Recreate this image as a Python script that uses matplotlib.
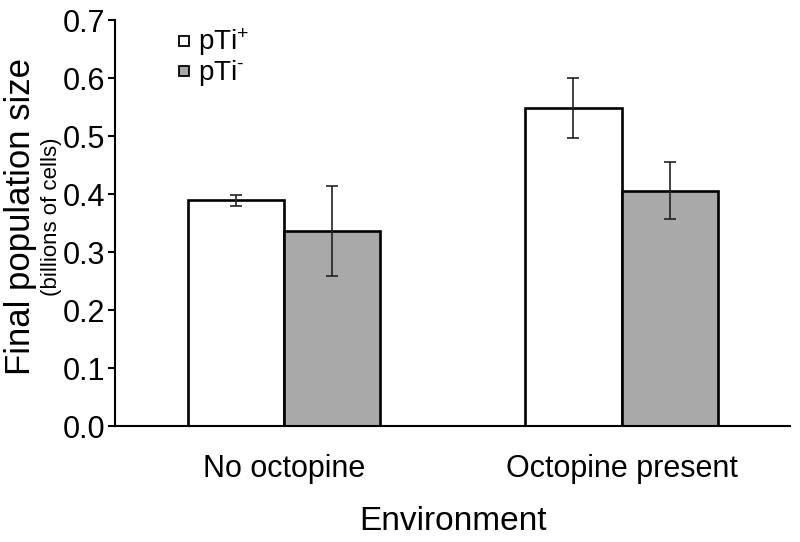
import numpy as np
import matplotlib
matplotlib.use("Agg")
import matplotlib.pyplot as plt
from matplotlib.lines import Line2D

plt.rcParams["font.family"] = ["Liberation Sans", "DejaVu Sans"]
plt.rcParams["mathtext.fontset"] = "custom"
plt.rcParams["mathtext.rm"] = "Liberation Sans"

# data
environments = ["No octopine", "Octopine present"]
pti_plus = [0.389, 0.548]
pti_plus_err = [0.010, 0.052]
pti_minus = [0.336, 0.406]
pti_minus_err = [0.078, 0.049]

fig = plt.figure(figsize=(8, 5.42), dpi=100)
ax = fig.add_axes([0.144, 0.214, 0.844, 0.749])

x = np.arange(len(environments))
w = 0.285

ax.bar(x - w / 2, pti_plus, w, color="white", edgecolor="black", linewidth=1.9, zorder=2)
ax.bar(x + w / 2, pti_minus, w, color="#a9a9a9", edgecolor="black", linewidth=1.9, zorder=2)
ax.errorbar(x - w / 2, pti_plus, yerr=pti_plus_err, fmt="none", ecolor="#222222",
            elinewidth=1.2, capsize=4, capthick=1.2, zorder=3)
ax.errorbar(x + w / 2, pti_minus, yerr=pti_minus_err, fmt="none", ecolor="#222222",
            elinewidth=1.2, capsize=4, capthick=1.2, zorder=3)

ax.set_xlim(-0.5, 1.5)
ax.set_ylim(0, 0.7)
ticks = np.arange(0, 0.71, 0.1)
ax.set_yticks(ticks)
ax.set_yticklabels(["%.1f" % v for v in ticks], fontsize=22)
ax.set_xticks(x)
ax.set_xticklabels(environments, fontsize=22)
ax.tick_params(axis="x", length=0, pad=20)
ax.tick_params(axis="y", length=5, width=1.5, pad=2, direction="out")

for s in ["top", "right"]:
    ax.spines[s].set_visible(False)
for s in ["left", "bottom"]:
    ax.spines[s].set_linewidth(1.5)

ax.set_xlabel("Environment", fontsize=24, labelpad=16)
fig.text(0.026, 0.6, "Final population size", rotation=90, fontsize=25,
         ha="center", va="center")
fig.text(0.064, 0.6, "(billions of cells)", rotation=90, fontsize=16,
         ha="center", va="center")

handles = [
    Line2D([], [], marker="s", linestyle="none", markersize=7,
           markerfacecolor="white", markeredgecolor="black", markeredgewidth=1.3),
    Line2D([], [], marker="s", linestyle="none", markersize=7,
           markerfacecolor="#a9a9a9", markeredgecolor="black", markeredgewidth=1.3),
]
ax.legend(handles, [r"$\mathregular{pTi^{+}}$", r"$\mathregular{pTi^{\text{-}}}$"],
          loc="upper left", bbox_to_anchor=(0.044, 1.045), frameon=False,
          fontsize=20, handletextpad=0.0, handlelength=1.0, labelspacing=0.0)

fig.savefig("out.png", dpi=100)
